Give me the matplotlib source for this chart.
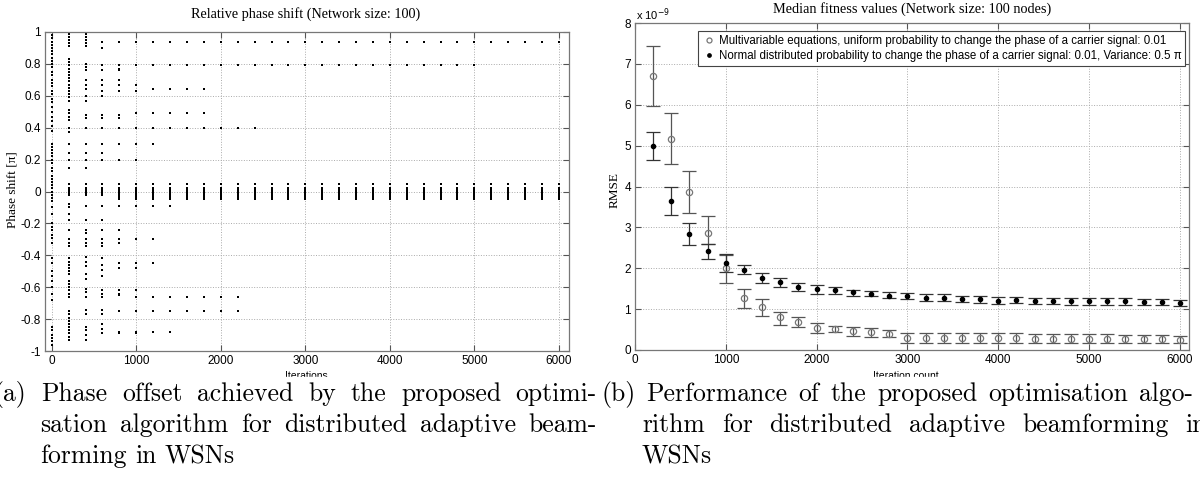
import matplotlib.pyplot as plt
from matplotlib.patches import Rectangle

# ---- left panel: relative phase shift per node, sampled every 200 iterations ----
iterations = [0, 200, 400, 600, 800, 1000, 1200, 1400, 1600, 1800, 2000, 2200, 2400,
              2600, 2800, 3000, 3200, 3400, 3600, 3800, 4000, 4200, 4400, 4600, 4800,
              5000, 5200, 5400, 5600, 5800, 6000]

phase_0 = [1.0, 0.98, 0.96, 0.94, 0.92, 0.9, 0.88, 0.86, 0.84, 0.82, 0.8, 0.78, 0.75,
           0.73, 0.7, 0.68, 0.66, 0.63, 0.61, 0.58, 0.56, 0.53, 0.5, 0.47, 0.44, 0.41,
           0.38, 0.3, 0.28, 0.26, 0.24, 0.22, 0.2, 0.18, 0.15, 0.13, 0.1, 0.08, 0.06,
           0.04, 0.02, 0.0, -0.02, -0.04, -0.06, -0.1, -0.14, -0.2, -0.22, -0.24, -0.27,
           -0.29, -0.32, -0.42, -0.45, -0.5, -0.53, -0.56, -0.6, -0.64, -0.68, -0.85,
           -0.87, -0.9, -0.92, -0.94, -0.96]
phase_200 = [0.99, 0.97, 0.95, 0.93, 0.91, 0.83, 0.81, 0.79, 0.77, 0.75, 0.73, 0.71,
             0.69, 0.67, 0.65, 0.63, 0.61, 0.59, 0.57, 0.51, 0.49, 0.47, 0.45, 0.4, 0.37,
             0.3, 0.24, 0.2, 0.15, -0.08, -0.1, -0.14, -0.18, -0.24, -0.3, -0.32, -0.34,
             -0.42, -0.44, -0.46, -0.48, -0.5, -0.52, -0.56, -0.58, -0.6, -0.62, -0.64,
             -0.66, -0.75, -0.77, -0.79, -0.81, -0.83, -0.85, -0.87, -0.89, -0.91, -0.93]
phase_400 = [0.99, 0.97, 0.95, 0.93, 0.91, 0.8, 0.78, 0.76, 0.7, 0.67, 0.64, 0.6, 0.57,
             0.48, 0.46, 0.4, 0.3, 0.24, 0.2, 0.15, -0.09, -0.18, -0.24, -0.26, -0.3,
             -0.32, -0.34, -0.41, -0.44, -0.47, -0.52, -0.55, -0.61, -0.63, -0.66, -0.74,
             -0.77, -0.85, -0.87, -0.9, -0.93]
phase_600 = [1.0, 0.94, 0.9, 0.79, 0.76, 0.7, 0.67, 0.63, 0.6, 0.48, 0.46, 0.4, 0.3,
             0.24, 0.2, -0.09, -0.18, -0.24, -0.3, -0.32, -0.34, -0.42, -0.46, -0.49,
             -0.53, -0.62, -0.64, -0.66, -0.74, -0.77, -0.83, -0.86, -0.89]
phase_800 = [1.0, 0.94, 0.79, 0.77, 0.76, 0.7, 0.67, 0.63, 0.48, 0.46, 0.4, 0.3, 0.2,
             -0.09, -0.24, -0.3, -0.32, -0.45, -0.48, -0.62, -0.64, -0.65, -0.75, -0.88,
             -0.89]
phase_1000 = [1.0, 0.94, 0.79, 0.67, 0.63, 0.49, 0.4, 0.3, 0.2, -0.09, -0.3, -0.45,
              -0.48, -0.62, -0.66, -0.75, -0.88, -0.89]
phase_1200 = [1.0, 0.94, 0.79, 0.64, 0.49, 0.4, 0.3, -0.09, -0.3, -0.45, -0.66, -0.75,
              -0.88]
phase_1400 = [0.94, 0.79, 0.64, 0.49, 0.4, -0.09, -0.66, -0.75, -0.88]
early_phases = [phase_0, phase_200, phase_400, phase_600, phase_800, phase_1000,
                phase_1200, phase_1400]

# nodes that stay stuck on one level after 1400 iterations
stuck_levels = [0.94, 0.79, 0.64, 0.49, 0.40, -0.66, -0.75]
stuck_until = [6000, 5000, 1800, 1800, 2400, 2200, 2200]

# the converged group around zero
cluster_small = [0.045, 0.02, 0.01, 0.0, -0.01, -0.02]
cluster_full = [0.05, 0.02, 0.01, 0.0, -0.01, -0.02, -0.03, -0.04, -0.05]

# ---- right panel: median RMSE (x 1e-9) with error bars ----
iter_count = [200, 400, 600, 800, 1000, 1200, 1400, 1600, 1800, 2000, 2200, 2400, 2600,
              2800, 3000, 3200, 3400, 3600, 3800, 4000, 4200, 4400, 4600, 4800, 5000,
              5200, 5400, 5600, 5800, 6000]
uniform_med = [6.70, 5.17, 3.87, 2.86, 2.00, 1.26, 1.04, 0.80, 0.69, 0.55, 0.51, 0.46,
               0.44, 0.40, 0.29, 0.29, 0.29, 0.29, 0.29, 0.29, 0.29, 0.28, 0.28, 0.28,
               0.27, 0.27, 0.26, 0.26, 0.26, 0.25]
uniform_hi = [7.43, 5.80, 4.37, 3.28, 2.32, 1.50, 1.24, 0.94, 0.81, 0.67, 0.59, 0.56,
              0.55, 0.50, 0.42, 0.41, 0.41, 0.41, 0.41, 0.41, 0.41, 0.40, 0.40, 0.40,
              0.39, 0.38, 0.36, 0.36, 0.36, 0.35]
uniform_lo = [5.98, 4.55, 3.36, 2.60, 1.63, 1.02, 0.82, 0.61, 0.57, 0.41, 0.43, 0.35,
              0.33, 0.31, 0.18, 0.18, 0.18, 0.18, 0.18, 0.18, 0.18, 0.17, 0.17, 0.17,
              0.16, 0.17, 0.17, 0.17, 0.17, 0.16]
normal_med = [5.00, 3.65, 2.85, 2.42, 2.12, 1.95, 1.77, 1.66, 1.55, 1.49, 1.46, 1.41,
              1.38, 1.33, 1.32, 1.27, 1.27, 1.25, 1.24, 1.21, 1.22, 1.20, 1.20, 1.19,
              1.19, 1.19, 1.19, 1.17, 1.18, 1.16]
normal_hi = [5.34, 4.00, 3.11, 2.60, 2.34, 2.07, 1.89, 1.77, 1.64, 1.60, 1.55, 1.48,
             1.44, 1.42, 1.40, 1.36, 1.36, 1.33, 1.32, 1.29, 1.30, 1.27, 1.27, 1.26,
             1.26, 1.26, 1.26, 1.24, 1.25, 1.23]
normal_lo = [4.65, 3.31, 2.58, 2.22, 1.90, 1.85, 1.64, 1.53, 1.44, 1.38, 1.36, 1.33,
             1.31, 1.26, 1.24, 1.19, 1.19, 1.17, 1.16, 1.13, 1.14, 1.12, 1.12, 1.11,
             1.11, 1.11, 1.11, 1.09, 1.10, 1.08]

legend_uniform = ("Multivariable equations, uniform probability to change the phase "
                  "of a carrier signal: 0.01")
legend_normal = ("Normal distributed probability to change the phase of a carrier "
                 "signal: 0.01, Variance: 0.5 \u03c0")

caption_a = ["(a) Phase offset achieved by the proposed optimi-",
             "sation algorithm for distributed adaptive beam-",
             "forming in WSNs"]
caption_b = ["(b) Performance of the proposed optimisation algo-",
             "rithm for distributed adaptive beamforming in",
             "WSNs"]

W, H = 1200, 478
plt.rcParams['font.family'] = ['Liberation Sans', 'DejaVu Sans']
fig = plt.figure(figsize=(12, 4.78), dpi=100)


def px(x, y):
    return x / W, 1 - y / H


def style_axes(ax, size):
    ax.grid(True, linestyle=':', color='#aaaaaa', linewidth=0.7)
    ax.tick_params(direction='in', length=4, top=True, right=True, labelsize=size,
                   color='#555555', pad=3)
    for s in ax.spines.values():
        s.set_color('#777777')
        s.set_linewidth(0.9)


# ---- left panel ----
ax1 = fig.add_axes([45 / W, 1 - 351 / H, 524 / W, 319 / H])
for it, vals in zip(iterations[:8], early_phases):
    ax1.plot([it] * len(vals), vals, 's', ms=1.7, color='k', mew=0)
for it in iterations[1:]:
    cl = cluster_small if it < 800 else cluster_full
    ax1.plot([it] * len(cl), cl, 's', ms=2.0, color='k', mew=0)
for it in iterations[8:]:
    lv = [lev for lev, last in zip(stuck_levels, stuck_until) if it <= last]
    ax1.plot([it] * len(lv), lv, 's', ms=1.7, color='k', mew=0)
ax1.set_xlim(-80, 6120)
ax1.set_ylim(-1, 1)
ax1.set_xticks([0, 1000, 2000, 3000, 4000, 5000, 6000])
ax1.set_yticks([-1, -0.8, -0.6, -0.4, -0.2, 0, 0.2, 0.4, 0.6, 0.8, 1])
ax1.set_yticklabels(['-1', '-0.8', '-0.6', '-0.4', '-0.2', '0', '0.2', '0.4', '0.6',
                     '0.8', '1'])
style_axes(ax1, 8.5)
fig.text(*px(306, 14), 'Relative phase shift (Network size: 100)', ha='center',
         va='center', fontsize=10.3, family='Liberation Serif')
fig.text(*px(13, 190), 'Phase shift [\u03c0]', ha='center', va='center', rotation=90,
         fontsize=9.5, family='Liberation Serif')
fig.text(*px(306, 376), 'Iterations', ha='center', va='center', fontsize=7.5)

# ---- right panel ----
ax2 = fig.add_axes([635 / W, 1 - 350 / H, 554 / W, 327 / H])
eb1 = ax2.errorbar(iter_count, uniform_med,
                   yerr=[[m - lo for m, lo in zip(uniform_med, uniform_lo)],
                         [hi - m for m, hi in zip(uniform_med, uniform_hi)]],
                   fmt='o', ms=4.5, mfc='none', mec='#777777', mew=0.9,
                   ecolor='#555555', elinewidth=0.9, capsize=5, capthick=0.9)
eb2 = ax2.errorbar(iter_count, normal_med,
                   yerr=[[m - lo for m, lo in zip(normal_med, normal_lo)],
                         [hi - m for m, hi in zip(normal_med, normal_hi)]],
                   fmt='o', ms=3.0, mfc='k', mec='k', ecolor='#333333',
                   elinewidth=0.9, capsize=5, capthick=0.9)
ax2.set_xlim(0, 6100)
ax2.set_ylim(0, 8)
ax2.set_xticks([0, 1000, 2000, 3000, 4000, 5000, 6000])
ax2.set_yticks(range(9))
style_axes(ax2, 8.5)
leg = ax2.legend([eb1[0], eb2[0]], [legend_uniform, legend_normal],
                 loc='upper right', bbox_to_anchor=(0.9995, 0.985), fontsize=8.3,
                 frameon=True, fancybox=False, edgecolor='#444444', framealpha=1,
                 borderpad=0.3, handletextpad=0.3, handlelength=1.2,
                 labelspacing=0.3, borderaxespad=0.3, markerscale=0.8)
leg.get_frame().set_linewidth(0.8)
fig.text(*px(912, 9), 'Median fitness values (Network size: 100 nodes)', ha='center',
         va='center', fontsize=10.3, family='Liberation Serif')
fig.text(*px(615, 190), 'RMSE', ha='center', va='center', rotation=90, fontsize=9.5,
         family='Liberation Serif')
fig.text(*px(636, 15), 'x 10$^{-9}$', ha='left', va='center', fontsize=8)
fig.text(*px(906, 376), 'Iteration count', ha='center', va='center', fontsize=7.5)

# white band that crops the axis labels, as in the scanned page
fig.patches.append(Rectangle((0, 0), 1, 1 - 377 / H, transform=fig.transFigure,
                             color='white', zorder=5))


# ---- justified captions in a Computer Modern face ----
def caption_line(text, x0, x1, y, justify=True):
    kw = dict(fontsize=18.5, family='cmr10', va='baseline', ha='left', zorder=6)
    words = text.split()
    r = fig.canvas.get_renderer()
    widths = []
    for w in words:
        t = fig.text(0, 0, w, **kw)
        widths.append(t.get_window_extent(r).width)
        t.remove()
    if justify and len(words) > 1:
        gap = (x1 - x0 - sum(widths)) / (len(words) - 1)
    else:
        gap = 8.5
    x = x0
    for w, wd in zip(words, widths):
        fig.text(*px(x, y), w, **kw)
        x += wd + gap


caption_line(caption_a[0], -6, 597, 401)
caption_line(caption_a[1], 40, 597, 432)
caption_line(caption_a[2], 40, 597, 463, justify=False)
caption_line(caption_b[0], 601, 1193, 401)
caption_line(caption_b[1], 642, 1207, 432)
caption_line(caption_b[2], 642, 1207, 463, justify=False)

fig.savefig('out.png', dpi=100)
